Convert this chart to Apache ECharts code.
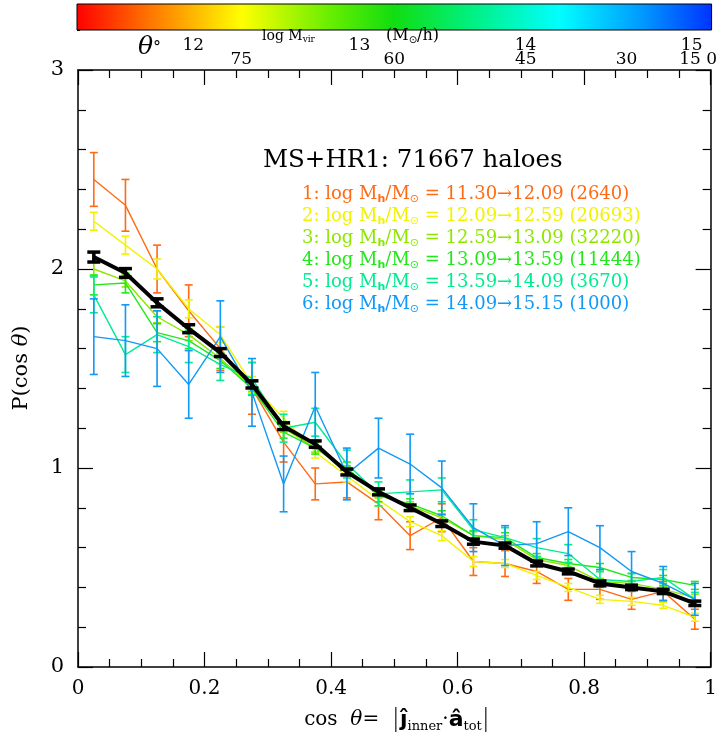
<!DOCTYPE html>
<html><head><meta charset="utf-8">
<script src="https://cdn.jsdelivr.net/npm/echarts@6/dist/echarts.min.js"></script>
<style>html,body{margin:0;padding:0;background:#fff}#c{width:720px;height:742px}</style>
</head><body><div id="c"></div>
<script>
// ---- data ----
const cosTheta = [0.025,0.075,0.125,0.175,0.225,0.275,0.325,0.375,0.425,0.475,0.525,0.575,0.625,0.675,0.725,0.775,0.825,0.875,0.925,0.975];
const s1 = [2.45,2.32,2.00,1.79,1.60,1.40,1.13,0.92,0.93,0.82,0.66,0.75,0.53,0.52,0.48,0.39,0.39,0.34,0.38,0.24];
const e1 = [0.135,0.13,0.12,0.13,0.11,0.13,0.10,0.08,0.08,0.08,0.07,0.07,0.07,0.065,0.06,0.055,0.05,0.05,0.05,0.05];
const s2 = [2.24,2.12,2.00,1.80,1.67,1.42,1.25,1.08,0.96,0.84,0.73,0.66,0.53,0.52,0.46,0.40,0.34,0.33,0.31,0.25];
const e2 = [0.045,0.045,0.05,0.045,0.04,0.04,0.035,0.03,0.03,0.03,0.025,0.025,0.025,0.02,0.02,0.02,0.02,0.02,0.015,0.02];
const s3 = [2.00,1.94,1.76,1.67,1.55,1.41,1.20,1.10,0.99,0.87,0.81,0.75,0.66,0.64,0.54,0.51,0.43,0.42,0.39,0.35];
const e3 = [0.035,0.03,0.03,0.03,0.025,0.025,0.02,0.02,0.02,0.02,0.02,0.02,0.02,0.02,0.015,0.015,0.015,0.015,0.015,0.015];
const s4 = [1.92,1.93,1.68,1.64,1.54,1.40,1.18,1.10,1.00,0.86,0.82,0.76,0.66,0.65,0.55,0.52,0.50,0.45,0.44,0.41];
const e4 = [0.05,0.05,0.045,0.04,0.04,0.035,0.03,0.03,0.03,0.03,0.025,0.025,0.025,0.025,0.02,0.02,0.02,0.02,0.02,0.02];
const s5 = [1.87,1.57,1.67,1.61,1.52,1.45,1.20,1.23,1.02,0.87,0.88,0.89,0.69,0.65,0.60,0.57,0.44,0.43,0.45,0.34];
const e5 = [0.09,0.09,0.09,0.08,0.08,0.08,0.07,0.07,0.07,0.06,0.06,0.06,0.05,0.05,0.045,0.045,0.04,0.04,0.04,0.035];
const s6 = [1.66,1.64,1.60,1.42,1.66,1.38,0.92,1.31,0.97,1.10,1.02,0.90,0.70,0.61,0.62,0.68,0.60,0.48,0.42,0.34];
const e6 = [0.19,0.18,0.19,0.17,0.18,0.17,0.14,0.17,0.13,0.15,0.15,0.135,0.12,0.10,0.11,0.12,0.11,0.10,0.085,0.08];
const sAll = [2.06,1.98,1.83,1.70,1.58,1.42,1.21,1.12,0.98,0.88,0.80,0.72,0.63,0.61,0.52,0.48,0.42,0.40,0.38,0.32];
const eAll = [0.025,0.022,0.02,0.02,0.02,0.018,0.017,0.016,0.015,0.015,0.014,0.014,0.013,0.013,0.012,0.012,0.012,0.011,0.011,0.011];

const binLow  = ['11.30','12.09','12.59','13.09','13.59','14.09'];
const binHigh = ['12.09','12.59','13.09','13.59','14.09','15.15'];
const binCount = ['2640','20693','32220','11444','3670','1000'];
const titleText = 'MS+HR1: 71667 haloes';
const xTicks = [0,0.2,0.4,0.6,0.8,1];
const yTicks = [0,1,2,3];
const massTicks = [12,13,14,15];
const thetaTicks = [75,60,45,30,15,0];
const massRange = [11.3, 15.12];

// ---- style ----
const colors = ['#ff6a14','#f2f200','#8ee600','#22e81a','#00ec8e','#1199f5'];
const SERIF = 'DejaVu Serif';

const values = [s1,s2,s3,s4,s5,s6];
const errs = [e1,e2,e3,e4,e5,e6];

function errSeries(vals, es, color, lw, capHalf, z) {
  return {
    type:'custom', xAxisIndex:0, yAxisIndex:0, z:z, silent:true, animation:false,
    data: cosTheta.map((x,i)=>[x, vals[i]-es[i], vals[i]+es[i]]),
    encode:{x:0, y:[1,2]},
    renderItem: function(params, api){
      const x = api.value(0);
      const lo = api.coord([x, api.value(1)]);
      const hi = api.coord([x, api.value(2)]);
      const st = {stroke:color, lineWidth:lw};
      return {type:'group', children:[
        {type:'line', shape:{x1:lo[0],y1:lo[1],x2:hi[0],y2:hi[1]}, style:st},
        {type:'line', shape:{x1:lo[0]-capHalf,y1:lo[1],x2:lo[0]+capHalf,y2:lo[1]}, style:st},
        {type:'line', shape:{x1:hi[0]-capHalf,y1:hi[1],x2:hi[0]+capHalf,y2:hi[1]}, style:st}
      ]};
    }
  };
}
function lineSeries(vals, color, w, z) {
  return {type:'line', xAxisIndex:0, yAxisIndex:0, z:z, silent:true, animation:false,
    data: cosTheta.map((x,i)=>[x, vals[i]]), symbol:'none',
    lineStyle:{color:color, width:w}};
}

const series = [];
values.forEach((v,i)=>{
  series.push(errSeries(v, errs[i], colors[i], 1.6, 4, 2+i));
  series.push(lineSeries(v, colors[i], 1.4, 2+i));
});
series.push(errSeries(sAll, eAll, '#000', 3.5, 6.5, 20));
series.push(lineSeries(sAll, '#000', 4, 20));

// colorbar
const cbStops = [
  [0,'#ff0000'],[0.12,'#ff7a00'],[0.26,'#ffff00'],[0.40,'#66ee00'],[0.50,'#11dd11'],
  [0.62,'#00f080'],[0.76,'#00ffff'],[0.89,'#0099ff'],[1,'#0033ff']
];
series.push({
  type:'custom', xAxisIndex:2, yAxisIndex:2, silent:true, animation:false, z:5,
  data:[[massRange[0], massRange[1]]],
  renderItem: function(params, api){
    const a = api.coord([api.value(0), 0]);
    const b = api.coord([api.value(1), 1]);
    return {type:'rect', shape:{x:a[0], y:b[1], width:b[0]-a[0], height:a[1]-b[1]},
      style:{fill:new echarts.graphic.LinearGradient(0,0,1,0, cbStops.map(s=>({offset:s[0], color:s[1]}))),
             stroke:'#000', lineWidth:1}};
  }
});

const minorMass = [];
for (let k = 0; k < 19; k++) minorMass.push(+(11.4 + 0.2*k).toFixed(1));

const axCommon = {
  axisLine:{show:true, onZero:false, lineStyle:{color:'#000', width:1.5}},
  splitLine:{show:false}
};

const option = {
  backgroundColor:'#fff',
  animation:false,
  grid:[
    {left:78, right:9, top:70, bottom:75},
    {left:77, right:8, top:4, height:26}
  ],
  xAxis:[
    Object.assign({type:'value', gridIndex:0, position:'bottom', min:0, max:1, interval:0.2,
      axisTick:{inside:true, length:15, lineStyle:{color:'#000', width:1.2}},
      minorTick:{show:true, splitNumber:4, length:8, lineStyle:{color:'#000', width:1.2}},
      axisLabel:{margin:12, fontSize:20, fontFamily:SERIF, color:'#000',
        customValues: xTicks, formatter: v => (v===0||v===1) ? String(v) : v.toFixed(1)}}, axCommon),
    Object.assign({type:'value', gridIndex:0, position:'top', min:0, max:1, interval:0.2,
      axisTick:{inside:true, length:15, lineStyle:{color:'#000', width:1.2}},
      minorTick:{show:true, splitNumber:4, length:8, lineStyle:{color:'#000', width:1.2}},
      axisLabel:{show:false}}, axCommon),
    {type:'value', gridIndex:1, position:'bottom', min:massRange[0], max:massRange[1],
      axisLine:{show:false, onZero:false}, splitLine:{show:false},
      axisTick:{inside:true, length:5, customValues:minorMass, lineStyle:{color:'#000', width:1}},
      axisLabel:{customValues:massTicks, margin:7, fontSize:17, fontFamily:SERIF, color:'#000'}},
    {type:'value', gridIndex:1, position:'top', min:massRange[0], max:massRange[1],
      axisLine:{show:false, onZero:false}, splitLine:{show:false},
      axisTick:{inside:true, length:5, customValues:minorMass, lineStyle:{color:'#000', width:1}},
      axisLabel:{show:false}},
    {type:'value', gridIndex:1, position:'bottom', min:0, max:1,
      axisLine:{show:false, onZero:false}, splitLine:{show:false}, axisTick:{show:false},
      axisLabel:{customValues: thetaTicks.map(t=>Math.cos(t*Math.PI/180)), margin:21, fontSize:17,
        fontFamily:SERIF, color:'#000', formatter: v => String(Math.round(Math.acos(Math.min(1,v))*180/Math.PI))}}
  ],
  yAxis:[
    Object.assign({type:'value', gridIndex:0, position:'left', min:0, max:3, interval:1,
      axisTick:{inside:true, length:15, lineStyle:{color:'#000', width:1.2}},
      minorTick:{show:true, splitNumber:5, length:8, lineStyle:{color:'#000', width:1.2}},
      axisLabel:{margin:14, fontSize:21, fontFamily:SERIF, color:'#000', customValues:yTicks}}, axCommon),
    Object.assign({type:'value', gridIndex:0, position:'right', min:0, max:3, interval:1,
      axisTick:{inside:true, length:15, lineStyle:{color:'#000', width:1.2}},
      minorTick:{show:true, splitNumber:5, length:8, lineStyle:{color:'#000', width:1.2}},
      axisLabel:{show:false}}, axCommon),
    {type:'value', gridIndex:1, min:0, max:1, interval:0.25, position:'left',
      axisLine:{show:false, onZero:false}, splitLine:{show:false},
      axisTick:{inside:true, length:3, lineStyle:{color:'#000'}}, axisLabel:{show:false}}
  ],
  series: series,
  graphic: []
};

// title + legend
option.graphic.push({type:'text', left:263, top:148, z:50, style:{text:titleText, fontSize:24.5, fontFamily:SERIF, fill:'#000'}});
const richLeg = (c) => ({
  n:{fontSize:18, fontFamily:SERIF, fill:c, lineHeight:22},
  h:{fontSize:11, fontFamily:'DejaVu Sans', fontWeight:'bold', fill:c, lineHeight:10, verticalAlign:'bottom'},
  o:{fontSize:11, fontFamily:'DejaVu Sans', fill:c, lineHeight:10, verticalAlign:'bottom'}
});
binLow.forEach((lo,i)=>{
  option.graphic.push({type:'text', left:302, top:185+22*i, z:50, style:{
    text:'{n|'+(i+1)+': log M}{h|h}{n|/M}{o|⊙}{n| = '+lo+'→'+binHigh[i]+' ('+binCount[i]+')}',
    rich:richLeg(colors[i])}});
});
// colorbar annotations
option.graphic.push({type:'text', left:138, top:35, z:50, style:{text:'{t|θ}{d|°}',
  rich:{t:{fontSize:25, fontFamily:SERIF, fontStyle:'italic', fill:'#000', lineHeight:26},
        d:{fontSize:16, fontFamily:SERIF, fill:'#000', lineHeight:26}}}});
option.graphic.push({type:'text', left:262, top:29, z:50, style:{text:'{n|log M}{s|vir}',
  rich:{n:{fontSize:14, fontFamily:SERIF, fill:'#000', lineHeight:16},
        s:{fontSize:9, fontFamily:SERIF, fill:'#000', lineHeight:9, verticalAlign:'bottom'}}}});
option.graphic.push({type:'text', left:386, top:28, z:50, style:{text:'{n|(M}{s|⊙}{n|/h)}',
  rich:{n:{fontSize:16, fontFamily:SERIF, fill:'#000', lineHeight:18},
        s:{fontSize:10, fontFamily:'DejaVu Sans', fill:'#000', lineHeight:10, verticalAlign:'bottom'}}}});
// axis names
option.graphic.push({type:'text', x:22, y:368, rotation:Math.PI/2, z:50, style:{
  text:'{n|P(cos }{t|θ}{n|)}', align:'center', verticalAlign:'middle',
  rich:{n:{fontSize:21, fontFamily:SERIF, fill:'#000'}, t:{fontSize:21, fontFamily:SERIF, fontStyle:'italic', fill:'#000'}}}});
option.graphic.push({type:'text', x:397, y:720, z:50, style:{
  text:'{n|cos  }{t|θ}{n|=  }{bar||}{b|ĵ}{s|inner}{n|·}{b|â}{s|tot}{bar||}', align:'center', verticalAlign:'middle',
  rich:{n:{fontSize:20, fontFamily:SERIF, fill:'#000', lineHeight:26},
        t:{fontSize:20, fontFamily:SERIF, fontStyle:'italic', fill:'#000', lineHeight:26},
        bar:{fontSize:24, fontFamily:'DejaVu Sans', fontWeight:'lighter', fill:'#000', lineHeight:26},
        b:{fontSize:22, fontFamily:'DejaVu Sans', fontWeight:'bold', fill:'#000', lineHeight:26},
        s:{fontSize:13, fontFamily:SERIF, fill:'#000', lineHeight:13, verticalAlign:'bottom'}}}});

const chart = echarts.init(document.getElementById('c'), null, {renderer:'canvas'});
chart.setOption(option);
</script></body></html>
